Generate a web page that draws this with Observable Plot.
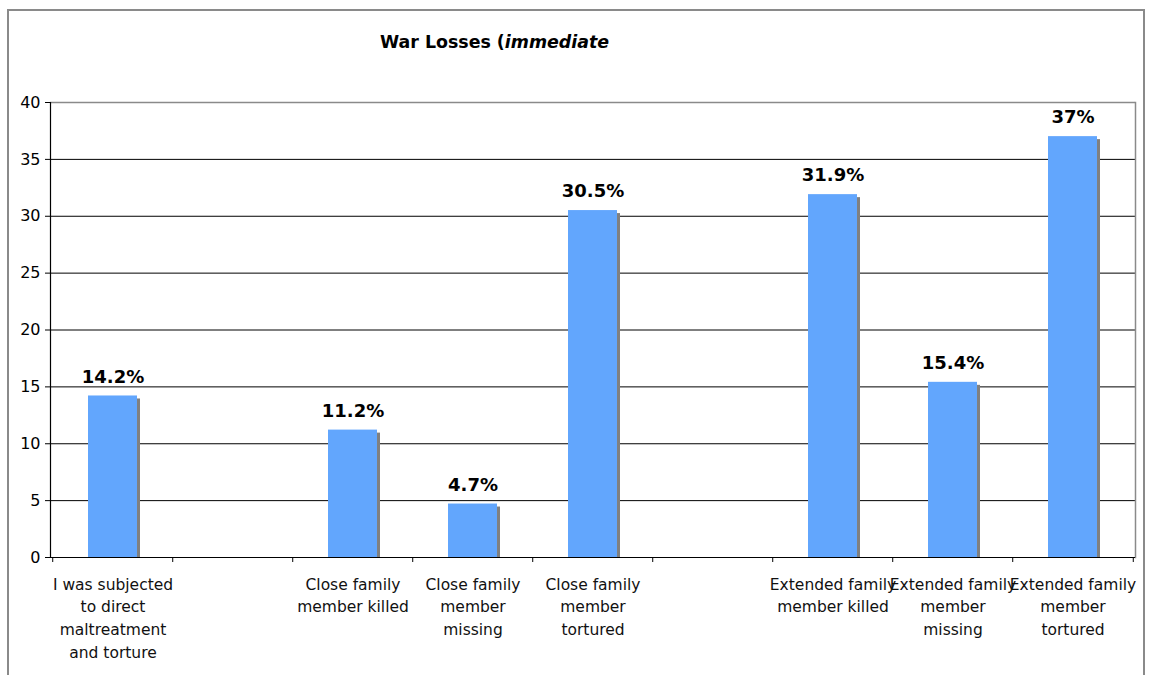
<!DOCTYPE html>
<html>
<head>
<meta charset="utf-8">
<script src="https://cdn.jsdelivr.net/npm/d3@7"></script>
<script src="https://cdn.jsdelivr.net/npm/@observablehq/plot@0.6"></script>
<style>
  html, body { margin: 0; padding: 0; background: #fff; overflow: hidden; }
  #wrap { position: relative; width: 1151px; height: 675px; overflow: hidden; font-family: "DejaVu Sans", Verdana, sans-serif; }
  #frame { position: absolute; left: 7px; top: 9px; width: 1138px; height: 720px; border: 2px solid #8a8a8a; box-sizing: border-box; }
  #title { position: absolute; left: 380px; top: 32px; font-size: 17.4px; font-weight: bold; color: #000; white-space: nowrap; }
  #chart { position: absolute; left: 0; top: 0; }
</style>
</head>
<body>
<div id="wrap">
  <div id="frame"></div>
  <div id="title">War Losses (<i>immediate</i></div>
  <div id="chart"></div>
</div>
<script>
// Categories (two empty slots in the original chart)
const categories = [
  "I was subjected\nto direct\nmaltreatment\nand torture",
  "",
  "Close family\nmember killed",
  "Close family\nmember\nmissing",
  "Close family\nmember\ntortured",
  " ",
  "Extended family\nmember killed",
  "Extended family\nmember\nmissing",
  "Extended family\nmember\ntortured"
];
const values = [14.2, null, 11.2, 4.7, 30.5, null, 31.9, 15.4, 37];
const valueLabels = ["14.2%", "", "11.2%", "4.7%", "30.5%", "", "31.9%", "15.4%", "37%"];
const yTicks = [0, 5, 10, 15, 20, 25, 30, 35, 40];

const data = categories.map((c, i) => ({cat: c, value: values[i], label: valueLabels[i]}))
  .filter(d => d.value != null);

const W = 1151, H = 675;
const mL = 50, mR = 16, mT = 102, mB = 118;
const step = (W - mL - mR) / categories.length;

const chart = Plot.plot({
  width: W,
  height: H,
  marginLeft: mL,
  marginRight: mR,
  marginTop: mT,
  marginBottom: mB,
  style: {fontFamily: "DejaVu Sans, Verdana, sans-serif", background: "transparent", color: "#000"},
  x: {domain: categories, paddingInner: 0.594, paddingOuter: 0.297, label: null},
  y: {domain: [0, 40], label: null},
  marks: [
    Plot.ruleY(yTicks.filter(t => t > 0 && t < 40), {stroke: "#000", strokeWidth: 1}),
    Plot.ruleY([40], {stroke: "#8a8a8a", strokeWidth: 1.5}),
    Plot.frame({anchor: "right", stroke: "#8a8a8a", strokeWidth: 1.5}),
    Plot.barY(data, {x: "cat", y: "value", fill: "#808080", dx: 3, insetTop: 3}),
    Plot.barY(data, {x: "cat", y: "value", fill: "#62a6fd"}),
    Plot.ruleY([0], {stroke: "#000", strokeWidth: 1.2}),
    Plot.frame({anchor: "left", stroke: "#000", strokeWidth: 1.2}),
    Plot.text(data, {x: "cat", y: "value", text: "label", dy: -19, fontSize: 18, fontWeight: "bold", fill: "#000"}),
    Plot.axisY({ticks: yTicks, tickSize: 5, tickPadding: 5, fontSize: 16, label: null, stroke: "#000"}),
    Plot.axisX({tickSize: 5, tickFormat: () => "", dx: -step / 2, label: null, stroke: "#000"}),
    Plot.axisX({ticks: [categories[categories.length - 1]], tickSize: 5, tickFormat: () => "", dx: step / 2, label: null, stroke: "#000"}),
    Plot.axisX({tickSize: 0, tickPadding: 16, fontSize: 15.5, lineHeight: 1.47, tickFormat: d => d.trim(), label: null, fill: "#111"})
  ]
});
document.getElementById("chart").appendChild(chart);
</script>
</body>
</html>
